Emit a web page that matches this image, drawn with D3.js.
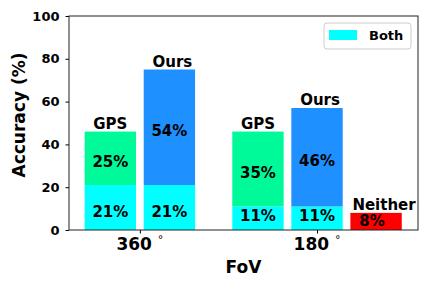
<!DOCTYPE html>
<html>
<head>
<meta charset="utf-8">
<script src="https://cdn.jsdelivr.net/npm/d3@7"></script>
<style>
  body { margin: 0; background: #fff; }
  text { font-family: "DejaVu Sans", sans-serif; font-weight: bold; }
</style>
</head>
<body>
<svg id="chart" width="432" height="288"></svg>
<script>
// chart values
const groupNames = ["360", "180"];
const barNames = ["GPS", "Ours", "GPS", "Ours", "Neither"];
const barGroup = [0, 0, 1, 1, 1];
const bothValues = [21, 21, 11, 11, 0];
const ownValues = [25, 54, 35, 46, 8];
const yTicks = [0, 20, 40, 60, 80, 100];

const colors = {
  Both: "#00ffff",
  GPS: "#00fa9a",
  Ours: "#1e90ff",
  Neither: "#ff0000",
};

const margin = { top: 16, right: 14, bottom: 58, left: 69 };
const width = 432 - margin.left - margin.right;
const height = 288 - margin.top - margin.bottom;

// slot of each bar: one unit per bar, half a unit gap between groups
const slots = barNames.map((d, i) => i + barGroup[i] * 0.5);
const barW = 0.87;

const x = d3.scaleLinear().domain([-0.7, 5.21]).range([0, width]);
const y = d3.scaleLinear().domain([0, 100]).range([height, 0]);

const svg = d3.select("#chart");
const g = svg.append("g").attr("transform", `translate(${margin.left},${margin.top})`);

// stacked bars
barNames.forEach((name, i) => {
  const left = x(slots[i] - barW / 2);
  const w = x(slots[i] + barW / 2) - left;
  const both = bothValues[i];
  const total = both + ownValues[i];

  if (both > 0) {
    g.append("rect")
      .attr("x", left).attr("width", w)
      .attr("y", y(both)).attr("height", y(0) - y(both))
      .attr("fill", colors.Both);
  }
  g.append("rect")
    .attr("x", left).attr("width", w)
    .attr("y", y(total)).attr("height", y(both) - y(total))
    .attr("fill", colors[name]);

  // percent labels
  const segs = both > 0 ? [[0, both], [both, total]] : [[0, total]];
  segs.forEach(([a, b]) => {
    const segH = y(a) - y(b);
    const ly = segH > 20 ? Math.min(y((a + b) / 2) + 4, y(a) - 14) : y((a + b) / 2);
    g.append("text")
      .attr("x", left + w / 2 - (name === "Neither" ? 4 : 0))
      .attr("y", ly)
      .attr("text-anchor", "middle")
      .attr("dominant-baseline", "central")
      .attr("font-size", 15)
      .text(`${b - a}%`);
  });

  // name above bar
  const t = g.append("text")
    .attr("y", y(total) - 3)
    .attr("font-size", 15)
    .text(name);
  if (name === "Neither") {
    t.attr("x", left + 2).attr("text-anchor", "start");
  } else {
    t.attr("x", left + w / 2 + (name === "Ours" ? 3 : 0)).attr("text-anchor", "middle");
  }
});

// y axis
const yAxis = g.append("g")
  .call(d3.axisLeft(y).tickValues(yTicks).tickSize(3.5).tickPadding(6));
yAxis.select(".domain").remove();
yAxis.selectAll("line").attr("stroke", "#000");
yAxis.selectAll("text")
  .attr("font-size", 13).attr("fill", "#000")
  .style("font-family", "'DejaVu Sans', sans-serif").style("font-weight", "bold");

// x axis with group ticks
const groupCenters = groupNames.map((gname, gi) => d3.mean(slots.filter((s, i) => barGroup[i] === gi)));
const xAxis = g.append("g")
  .attr("transform", `translate(0,${height})`)
  .call(d3.axisBottom(x).tickValues(groupCenters).tickSize(3.5).tickFormat(""));
xAxis.select(".domain").remove();
xAxis.selectAll("line").attr("stroke", "#000");
groupCenters.forEach((c, gi) => {
  const t = g.append("text")
    .attr("x", x(c))
    .attr("y", height + 19.5)
    .attr("text-anchor", "middle")
    .attr("font-size", 17);
  t.append("tspan").text(groupNames[gi] + " ");
  t.append("tspan").attr("font-size", 11).attr("dy", -7).attr("font-weight", "normal").text("°");
});

// frame
g.append("rect")
  .attr("width", width).attr("height", height)
  .attr("fill", "none").attr("stroke", "#222").attr("stroke-width", 1);

// axis titles
g.append("text")
  .attr("x", width / 2).attr("y", height + 43)
  .attr("text-anchor", "middle").attr("font-size", 17)
  .text("FoV");
g.append("text")
  .attr("transform", `translate(${-50},${height / 2 - 8}) rotate(-90)`)
  .attr("text-anchor", "middle").attr("dominant-baseline", "central")
  .attr("font-size", 17)
  .text("Accuracy (%)");

// legend
const lg = g.append("g").attr("transform", `translate(${width - 94},7)`);
lg.append("rect")
  .attr("width", 87).attr("height", 26).attr("rx", 3)
  .attr("fill", "#fff").attr("fill-opacity", 0.8)
  .attr("stroke", "#cccccc");
lg.append("rect")
  .attr("x", 5).attr("y", 7).attr("width", 28).attr("height", 10)
  .attr("fill", colors.Both);
lg.append("text")
  .attr("x", 45).attr("y", 17)
  .attr("font-size", 13)
  .text("Both");
</script>
</body>
</html>
